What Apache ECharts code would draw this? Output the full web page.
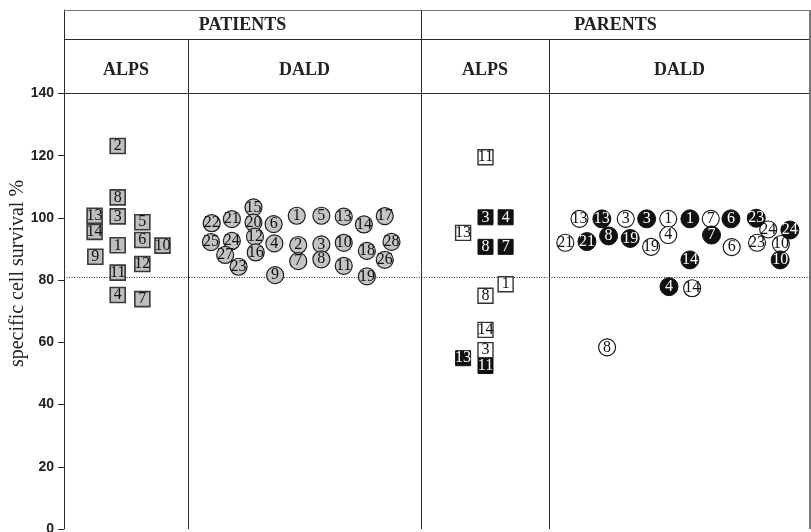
<!DOCTYPE html>
<html>
<head>
<meta charset="utf-8">
<script src="https://cdn.jsdelivr.net/npm/echarts@6/dist/echarts.min.js"></script>
<style>
  html, body { margin: 0; padding: 0; background: #fff; }
  #chart { width: 811px; height: 532px; }
</style>
</head>
<body>
<div id="chart"></div>
<script>
// Specific cell survival (%) per subject; horizontal position is the lane inside each panel (0-100 across the plot).
const yTicks = [0, 20, 40, 60, 80, 100, 120, 140];
const groupTitles = ['PATIENTS', 'PARENTS'];
const panelTitles = ['ALPS', 'DALD', 'ALPS', 'DALD'];
const cutoff = 80.9;

// Patients, ALPS
const patAlpsIds = ['2', '8', '13', '3', '5', '14', '6', '1', '10', '9', '12', '11', '4', '7'];
const patAlpsLane = [7.2, 7.2, 4.1, 7.2, 10.5, 4.1, 10.5, 7.2, 13.2, 4.2, 10.5, 7.2, 7.2, 10.5];
const patAlpsSurvival = [123.1, 106.6, 100.7, 100.5, 98.6, 95.5, 92.9, 91.2, 91.1, 87.5, 85.2, 82.4, 75.2, 73.9];

// Patients, DALD
const patDaldIds = ['15', '22', '21', '20', '6', '1', '5', '13', '14', '17', '12', '25', '24', '4', '2', '3', '10', '28',
  '18', '27', '16', '26', '7', '8', '23', '11', '9', '19'];
const patDaldLane = [25.4, 19.8, 22.5, 25.4, 28.1, 31.2, 34.5, 37.5, 40.2, 43.0, 25.6, 19.7, 22.5, 28.2, 31.4, 34.5, 37.5, 43.9,
  40.6, 21.6, 25.7, 43.0, 31.4, 34.5, 23.4, 37.5, 28.3, 40.6];
const patDaldSurvival = [103.4, 98.3, 99.6, 98.5, 98.0, 100.7, 100.7, 100.4, 97.9, 100.6, 94.0, 92.2, 92.6, 91.8, 91.3, 91.5, 92.0, 92.3,
  89.4, 88.1, 88.9, 86.5, 86.1, 86.7, 84.3, 84.6, 81.6, 81.2];

// Parents, ALPS (open = one parent, filled = the other)
const parAlpsOpenIds = ['11', '13', '1', '8', '14', '3'];
const parAlpsOpenLane = [56.5, 53.5, 59.2, 56.5, 56.5, 56.5];
const parAlpsOpenSurvival = [119.5, 95.2, 78.7, 75.0, 64.0, 57.5];
const parAlpsFilledIds = ['3', '4', '8', '7', '13', '11'];
const parAlpsFilledLane = [56.5, 59.2, 56.5, 59.2, 53.5, 56.5];
const parAlpsFilledSurvival = [100.2, 100.2, 90.7, 90.7, 54.9, 52.4];

// Parents, DALD
const parDaldOpenIds = ['13', '3', '1', '7', '21', '19', '4', '6', '23', '10', '24', '14', '8'];
const parDaldOpenLane = [69.1, 75.3, 81.0, 86.7, 67.2, 78.7, 81.0, 89.5, 92.9, 96.1, 94.4, 84.2, 72.8];
const parDaldOpenSurvival = [99.7, 99.7, 99.7, 99.7, 92.0, 90.7, 94.5, 90.6, 92.0, 91.6, 96.3, 77.4, 58.4];
const parDaldFilledIds = ['13', '3', '1', '6', '23', '24', '21', '8', '19', '7', '14', '10', '4'];
const parDaldFilledLane = [72.1, 78.1, 83.9, 89.4, 92.8, 97.3, 70.1, 73.0, 75.9, 86.8, 83.9, 96.0, 81.1];
const parDaldFilledSurvival = [99.7, 99.7, 99.7, 99.7, 99.9, 96.1, 92.4, 94.2, 93.4, 94.5, 86.5, 86.5, 77.9];

// Layout of the panel frame (in axis units)
const panelEdges = [0, 16.62, 47.86, 65.01, 100];
const headerSplit = 157.52;
const frameTop = 166.84;

function points(ids, lane, surv) {
  return ids.map((id, i) => ({ name: id, value: [lane[i], surv[i]] }));
}

const serifFont = '"Liberation Serif", "Times New Roman", serif';

function markerSeries(name, data, symbol, size, fill, border, borderWidth, textColor) {
  return {
    name: name,
    type: 'scatter',
    data: data,
    symbol: symbol,
    symbolSize: size,
    itemStyle: { color: fill, borderColor: border, borderWidth: borderWidth, opacity: 1 },
    label: {
      show: true,
      position: 'inside',
      formatter: p => p.name,
      color: textColor,
      fontFamily: serifFont,
      fontSize: 16
    },
    emphasis: { disabled: true },
    silent: true,
    z: 5
  };
}

const frameLine = { color: '#2a2a2a', width: 1, type: 'solid' };
const frameLines = [
  // top border, header split, 140 line
  [{ coord: [0, frameTop], lineStyle: { color: '#777', width: 1, type: 'solid' } }, { coord: [100, frameTop] }],
  [{ coord: [0, headerSplit], lineStyle: frameLine }, { coord: [100, headerSplit] }],
  [{ coord: [0, 140], lineStyle: frameLine }, { coord: [100, 140] }],
  // vertical dividers
  [{ coord: [panelEdges[1], 0], lineStyle: frameLine }, { coord: [panelEdges[1], headerSplit] }],
  [{ coord: [panelEdges[2], 0], lineStyle: frameLine }, { coord: [panelEdges[2], frameTop] }],
  [{ coord: [panelEdges[3], 0], lineStyle: frameLine }, { coord: [panelEdges[3], headerSplit] }],
  // right border
  [{ coord: [100, 0], lineStyle: { color: '#777', width: 2, type: 'solid' } }, { coord: [100, frameTop] }],
  // reference cut-off
  [{ coord: [0, cutoff], lineStyle: { color: '#333', width: 1, type: [1, 1.5] } }, { coord: [100, cutoff] }]
];

const headerAreas = [
  [{ name: groupTitles[0], coord: [panelEdges[0], headerSplit] }, { coord: [panelEdges[2], frameTop] }],
  [{ name: groupTitles[1], coord: [panelEdges[2], headerSplit] }, { coord: [panelEdges[4], frameTop] }]
];
for (let i = 0; i < 4; i++) {
  headerAreas.push([
    { name: panelTitles[i], coord: [panelEdges[i], 140], label: { offset: [0, 4] } },
    { coord: [panelEdges[i + 1], headerSplit] }
  ]);
}

const chart = echarts.init(document.getElementById('chart'), null, { renderer: 'canvas' });
chart.setOption({
  animation: false,
  backgroundColor: '#fff',
  grid: { left: 64, right: 1, top: 10, bottom: 3, containLabel: false, outerBoundsMode: 'none' },
  xAxis: {
    type: 'value', min: 0, max: 100,
    show: false
  },
  yAxis: {
    type: 'value', min: 0, max: frameTop,
    axisLine: { show: true, lineStyle: { color: '#2a2a2a', width: 1 } },
    axisTick: { show: true, length: 6, customValues: yTicks, lineStyle: { color: '#2a2a2a' } },
    axisLabel: {
      customValues: yTicks,
      margin: 10,
      color: '#222',
      fontFamily: '"Liberation Sans", Arial, sans-serif',
      fontWeight: 'bold',
      fontSize: 14
    },
    splitLine: { show: false },
    name: 'specific cell survival %',
    nameLocation: 'middle',
    nameGap: 36,
    nameMoveOverlap: false,
    nameTextStyle: { fontFamily: serifFont, fontSize: 20, color: '#222', padding: [0, 8, 0, 0] }
  },
  series: [
    {
      name: 'frame',
      type: 'line',
      data: [],
      silent: true,
      markLine: {
        silent: true,
        symbol: 'none',
        label: { show: false },
        animation: false,
        data: frameLines
      },
      markArea: {
        silent: true,
        itemStyle: { color: 'rgba(0,0,0,0)' },
        label: {
          show: true,
          position: 'inside',
          color: '#222',
          fontFamily: serifFont,
          fontWeight: 'bold',
          fontSize: 18,
          offset: [0, 1]
        },
        data: headerAreas
      }
    },
    markerSeries('Patients ALPS', points(patAlpsIds, patAlpsLane, patAlpsSurvival), 'rect', 15, '#bebebe', '#3a3a3a', 1.6, '#111'),
    markerSeries('Patients DALD', points(patDaldIds, patDaldLane, patDaldSurvival), 'circle', 17, '#c4c4c4', '#1e1e1e', 1.2, '#111'),
    markerSeries('Parents ALPS open', points(parAlpsOpenIds, parAlpsOpenLane, parAlpsOpenSurvival), 'rect', 15, '#fff', '#333', 1.4, '#111'),
    markerSeries('Parents ALPS filled', points(parAlpsFilledIds, parAlpsFilledLane, parAlpsFilledSurvival), 'rect', 15, '#111', '#111', 1, '#fff'),
    markerSeries('Parents DALD open', points(parDaldOpenIds, parDaldOpenLane, parDaldOpenSurvival), 'circle', 17, '#fff', '#111', 1.1, '#111'),
    markerSeries('Parents DALD filled', points(parDaldFilledIds, parDaldFilledLane, parDaldFilledSurvival), 'circle', 18, '#111', '#111', 1, '#fff')
  ]
});
</script>
</body>
</html>
